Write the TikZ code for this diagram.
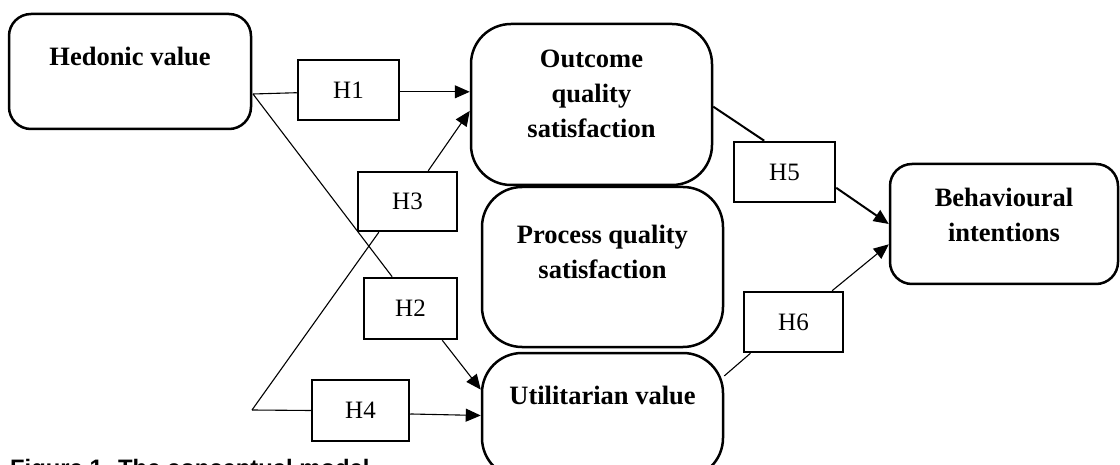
\documentclass[tikz,border=0pt]{standalone}
\usepackage{fontspec}
\setmainfont{Liberation Serif}
\newfontfamily\capfont{Liberation Sans}
\usetikzlibrary{arrows.meta}
\begin{document}
\begin{tikzpicture}[x=1pt,y=-1pt,
  box/.style={draw, line width=2.5pt, rounded corners=#1, inner sep=0pt},
  box/.default=40pt,
  hbox/.style={draw, line width=2.5pt, inner sep=0pt, font=\fontsize{25}{30}\selectfont},
  lbl/.style={font=\fontsize{26.5}{35}\selectfont\bfseries, anchor=base, inner sep=0pt},
  conn/.style={line width=1.1pt},
  arr/.style={line width=1.1pt, -{Triangle[length=15pt,width=13pt]}},
  thickarr/.style={line width=2pt, -{Triangle[length=15pt,width=13pt]}}
]
\clip (0,0) rectangle (1120,465);
\fill[white] (0,0) rectangle (1120,465);

% main boxes
\node[box=22pt, minimum width=242pt, minimum height=115pt] (hed) at (130,71.5) {};
\node[box, minimum width=241pt, minimum height=161pt] (out) at (591.5,104.5) {};
\node[box, minimum width=241pt, minimum height=160pt] (proc) at (602.5,267) {};
\node[box, minimum width=241pt, minimum height=125pt] (util) at (602.5,415.5) {};
\node[box=22pt, minimum width=228pt, minimum height=120pt] (behav) at (1004,224) {};

% box texts
\node[lbl] (hedt) at (130,66) {Hedonic value};
\node[lbl] (out1) at (591.5,68) {Outcome};
\node[lbl] (out2) at (591.5,103) {quality};
\node[lbl] (out3) at (591.5,138) {satisfaction};
\node[lbl] (proc1) at (602.5,244) {Process quality};
\node[lbl] (proc2) at (602.5,279) {satisfaction};
\node[lbl] (utilt) at (602.5,404) {Utilitarian value};
\node[lbl] (beh1) at (1004,207) {Behavioural};
\node[lbl] (beh2) at (1004,242) {intentions};

% hypothesis boxes
\node[hbox, minimum width=101pt, minimum height=60pt] (h1) at (348.5,90) {H1};
\node[hbox, minimum width=99pt, minimum height=59pt] (h3) at (407.5,201.5) {H3};
\node[hbox, minimum width=93pt, minimum height=61pt] (h2) at (410.5,308.5) {H2};
\node[hbox, minimum width=97pt, minimum height=61pt] (h4) at (360.5,410.5) {H4};
\node[hbox, minimum width=101pt, minimum height=60pt] (h5) at (784.5,172) {H5};
\node[hbox, minimum width=99pt, minimum height=60pt] (h6) at (793.5,322) {H6};

% free ends
\coordinate (hs) at (253,94);
\coordinate (hs2) at (252,410);

% connectors
\draw[conn] (hs) -- (h1.183.4);
\draw[arr] (h1.-2.3) -- (h1.-2.3 -| out.west);
\draw[conn] (hs) -- (h2.120);
\draw[arr] (h2.-45) -- (util.168.5);
\draw[conn] (hs2) -- (h3.-133);
\draw[arr] (h3.56.5) -- (out.183.6);
\draw[conn] (hs2) -- (h4.west);
\draw[arr] (h4.-4) -- (util.west);
\draw[line width=2pt] (out.-1.2) -- (h5.123);
\draw[thickarr] (h5.-17.6) -- (behav.west);
\draw[conn] (util.18.3) -- (h6.-144.8);
\draw[arr] (h6.39.4) -- (behav.190.9);

% caption (cut off at the bottom edge as in the original)
\node[font=\capfont\bfseries\fontsize{23.8}{28}\selectfont, anchor=base west, inner sep=0pt] (cap) at (10,476) {Figure 1. The conceptual model};
\end{tikzpicture}
\end{document}
